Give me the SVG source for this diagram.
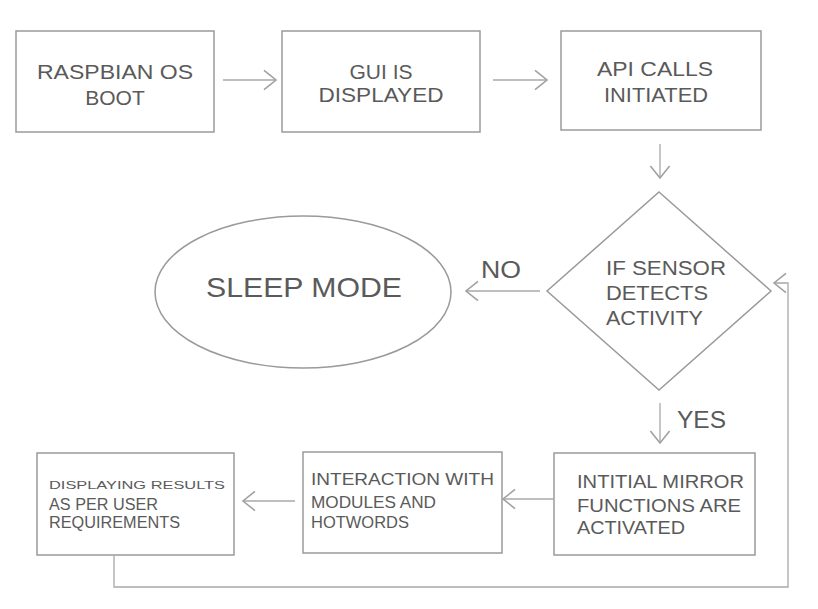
<svg xmlns="http://www.w3.org/2000/svg" width="818" height="609" viewBox="0 0 818 609">
<style>
.box{fill:#fff;stroke:#9a9a9a;stroke-width:1.5}
.t{font-family:"Liberation Sans",Arial,sans-serif;fill:#5a5a5a}
.c{stroke:#a8a8a8;stroke-width:1.3;fill:none}
</style>
<defs>
<marker id="ah" markerUnits="userSpaceOnUse" markerWidth="24" markerHeight="24" viewBox="-12 -10 14 20" refX="0" refY="0" orient="auto">
<path d="M-10,-8 L0,0 L-10,8" fill="none" stroke="#a0a0a0" stroke-width="1.3"/>
</marker>
</defs>
<rect width="818" height="609" fill="#fff"/>
<g id="n1"><rect class="box" x="16" y="31" width="198" height="101"/>
<text class="t" font-size="21" text-anchor="middle"><tspan x="115" y="79" textLength="156" lengthAdjust="spacingAndGlyphs">RASPBIAN OS</tspan><tspan x="115" y="105">BOOT</tspan></text></g>
<g id="n2"><rect class="box" x="282" y="31" width="198" height="101"/>
<text class="t" font-size="21" text-anchor="middle"><tspan x="381" y="79">GUI IS</tspan><tspan x="381" y="102" textLength="125" lengthAdjust="spacingAndGlyphs">DISPLAYED</tspan></text></g>
<g id="n3"><rect class="box" x="561" y="31" width="200" height="99"/>
<text class="t" font-size="21" text-anchor="middle"><tspan x="655" y="76" textLength="116" lengthAdjust="spacingAndGlyphs">API CALLS</tspan><tspan x="656" y="102" textLength="104" lengthAdjust="spacingAndGlyphs">INITIATED</tspan></text></g>
<g id="n4"><polygon class="box" points="659,192 771,291 659,390 547,291"/>
<text class="t" font-size="20"><tspan x="606" y="275" textLength="120" lengthAdjust="spacingAndGlyphs">IF SENSOR</tspan><tspan x="606" y="300" textLength="102" lengthAdjust="spacingAndGlyphs">DETECTS</tspan><tspan x="606" y="325" textLength="97" lengthAdjust="spacingAndGlyphs">ACTIVITY</tspan></text></g>
<g id="n5"><ellipse class="box" cx="303" cy="292" rx="148" ry="76"/>
<text class="t" font-size="28" x="304" y="297" text-anchor="middle" textLength="196" lengthAdjust="spacingAndGlyphs">SLEEP MODE</text></g>
<g id="n6"><rect class="box" x="554" y="453" width="201" height="102"/>
<text class="t" font-size="18"><tspan x="577" y="488" textLength="167" lengthAdjust="spacingAndGlyphs">INTITIAL MIRROR</tspan><tspan x="577" y="512" textLength="164" lengthAdjust="spacingAndGlyphs">FUNCTIONS ARE</tspan><tspan x="577" y="534" textLength="108" lengthAdjust="spacingAndGlyphs">ACTIVATED</tspan></text></g>
<g id="n7"><rect class="box" x="303" y="452" width="199" height="101"/>
<text class="t" font-size="17"><tspan x="311" y="485" textLength="183" lengthAdjust="spacingAndGlyphs">INTERACTION WITH</tspan><tspan x="311" y="508" textLength="125" lengthAdjust="spacingAndGlyphs">MODULES AND</tspan><tspan x="311" y="528" textLength="98" lengthAdjust="spacingAndGlyphs">HOTWORDS</tspan></text></g>
<g id="n8"><rect class="box" x="37" y="453" width="197" height="102"/>
<text class="t"><tspan x="49" y="489" font-size="11" textLength="176" lengthAdjust="spacingAndGlyphs">DISPLAYING RESULTS</tspan><tspan x="49" y="510" font-size="16" textLength="109" lengthAdjust="spacingAndGlyphs">AS PER USER</tspan><tspan x="49" y="528" font-size="16" textLength="131" lengthAdjust="spacingAndGlyphs">REQUIREMENTS</tspan></text></g>
<g id="labels">
<text class="t" font-size="24" x="481" y="278" textLength="40" lengthAdjust="spacingAndGlyphs">NO</text>
<text class="t" font-size="23" x="677" y="428" textLength="49" lengthAdjust="spacingAndGlyphs">YES</text>
</g>
<g id="connectors">
<path class="c" d="M223,80 H276" marker-end="url(#ah)"/>
<path class="c" d="M493,80 H547" marker-end="url(#ah)"/>
<path class="c" d="M660,144 V178" marker-end="url(#ah)"/>
<path class="c" d="M540,291 H466" marker-end="url(#ah)"/>
<path class="c" d="M660,403 V443" marker-end="url(#ah)"/>
<path class="c" d="M554,499 H503" marker-end="url(#ah)"/>
<path class="c" d="M295,501 H243" marker-end="url(#ah)"/>
<path class="c" d="M114,555 V587 H788 V283 H774" marker-end="url(#ah)"/>
</g>
</svg>
